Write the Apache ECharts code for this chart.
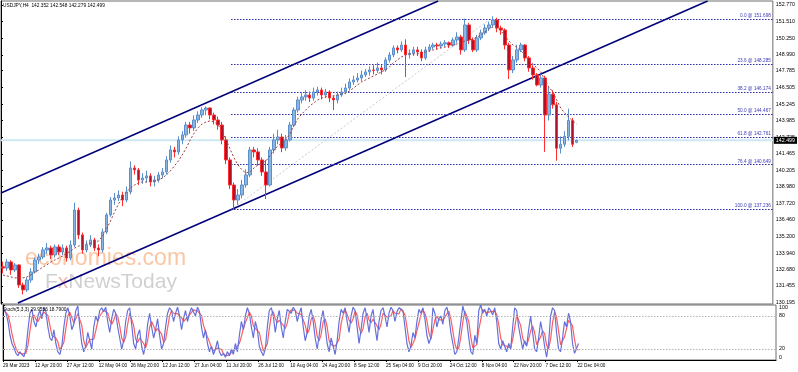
<!DOCTYPE html>
<html><head><meta charset="utf-8">
<script src="https://cdn.jsdelivr.net/npm/echarts@6/dist/echarts.min.js"></script>
<style>html,body{margin:0;padding:0;background:#fff}#c{width:798px;height:372px}</style>
</head><body><div id="c"></div>
<script>
// ---- data ----
const chartTitle = 'USDJPY,H4  142.352 142.548 142.279 142.499';
const stochTitle = 'Stoch(5,3,3) 29.9556 18.7900';
const opens = [
132.90,132.81,133.27,132.66,133.04,131.52,131.15,131.90,132.51,133.42,
133.65,134.18,134.33,133.80,134.41,134.03,134.33,133.57,134.56,137.21,
135.32,134.18,134.56,134.94,134.33,134.18,135.55,136.84,137.97,138.13,
138.35,137.97,138.58,140.40,140.25,139.49,139.64,139.80,139.34,139.49,
139.87,140.10,141.01,141.77,141.62,142.53,142.91,143.66,143.44,144.04,
144.42,144.80,144.95,144.42,144.04,143.66,142.53,141.01,139.11,137.97,
138.35,139.11,139.87,141.77,141.62,141.01,140.10,139.11,141.77,142.53,
142.75,141.92,142.53,143.66,144.80,145.56,145.79,145.94,145.71,146.17,
146.32,145.94,146.17,145.71,145.56,145.94,146.17,146.47,146.93,147.08,
147.23,147.46,147.69,147.84,147.80,147.99,147.84,148.60,148.98,149.51,
149.36,149.73,149.00,149.10,149.36,149.20,148.75,149.36,149.58,149.73,
149.66,149.81,149.90,149.73,150.11,150.34,149.36,151.25,150.11,149.36,
150.27,150.65,151.02,151.25,151.63,151.02,150.87,149.73,147.84,148.60,
149.36,149.73,148.75,147.99,147.46,146.70,147.23,144.42,146.00,145.20,
141.90,142.20,142.80,144.00,142.35];
const closes = [
132.81,133.27,132.66,133.04,131.52,131.15,131.90,132.51,133.42,133.65,
134.18,134.33,133.80,134.41,134.03,134.33,133.57,134.56,137.21,135.32,
134.18,134.56,134.94,134.33,134.18,135.55,136.84,137.97,138.13,138.35,
137.97,138.58,140.40,140.25,139.49,139.64,139.80,139.34,139.49,139.87,
140.10,141.01,141.77,141.62,142.53,142.91,143.66,143.44,144.04,144.42,
144.80,144.95,144.42,144.04,143.66,142.53,141.01,139.11,137.97,138.35,
139.11,139.87,141.77,141.62,141.01,140.10,139.11,141.77,142.53,142.75,
141.92,142.53,143.66,144.80,145.56,145.79,145.94,145.71,146.17,146.32,
145.94,146.17,145.71,145.56,145.94,146.17,146.47,146.93,147.08,147.23,
147.46,147.69,147.84,147.80,147.99,147.84,148.60,148.98,149.51,149.36,
149.73,149.00,149.10,149.36,149.20,148.75,149.36,149.58,149.73,149.66,
149.81,149.90,149.73,150.11,150.34,149.36,151.25,150.11,149.36,150.27,
150.65,151.02,151.25,151.63,151.02,150.87,149.73,147.84,148.60,149.36,
149.73,148.75,147.99,147.46,146.70,147.23,144.42,146.00,145.20,141.90,
142.20,142.80,144.00,142.20,142.50];
const lows = [
132.40,132.60,132.30,132.50,131.30,130.80,131.00,131.70,132.40,133.10,
133.50,133.90,133.50,133.60,133.80,133.80,133.30,133.40,134.40,135.00,
133.90,134.00,134.40,134.10,133.70,134.00,135.40,136.70,137.60,137.90,
137.50,137.80,138.40,139.90,139.10,139.20,139.30,139.00,139.00,139.30,
139.60,139.90,140.80,141.20,141.40,142.20,142.70,143.00,143.20,143.80,
144.20,144.40,144.10,143.70,143.30,142.20,140.70,138.80,137.24,137.60,
138.10,138.90,139.70,141.20,140.60,139.80,138.05,139.00,141.50,142.20,
141.60,141.70,142.40,143.50,144.60,145.30,145.50,145.40,145.50,145.90,
145.60,145.70,145.40,144.80,145.30,145.80,146.00,146.30,146.70,146.90,
147.00,147.30,147.40,147.50,147.60,147.50,147.70,148.40,148.80,149.10,
149.20,147.30,148.70,148.90,148.90,148.50,148.60,149.20,149.40,149.40,
149.50,149.60,149.50,149.60,149.90,149.00,149.20,149.80,149.20,149.20,
150.10,150.50,150.80,151.10,150.70,150.50,149.40,147.15,147.60,148.40,
149.20,148.50,147.70,147.10,146.60,146.50,141.62,144.00,144.90,140.95,
141.50,142.00,142.50,142.00,142.28];
const highs = [
133.30,133.50,133.40,133.20,133.10,131.70,132.10,132.80,133.60,133.90,
134.40,134.70,134.50,134.60,134.60,134.60,134.50,134.90,137.77,137.40,
135.50,134.90,135.30,135.10,134.60,135.80,137.00,138.20,138.50,138.70,
138.60,139.00,140.90,140.60,140.40,140.00,140.20,140.00,139.80,140.10,
140.40,141.30,142.10,142.00,142.80,143.20,143.90,143.90,144.40,144.70,
145.00,145.07,145.00,144.60,144.30,143.90,142.80,141.20,139.30,138.80,
139.50,140.30,142.00,142.00,141.90,141.20,141.00,142.00,143.00,143.30,
143.00,142.90,143.90,145.00,145.80,146.10,146.30,146.20,146.50,146.56,
146.50,146.40,146.30,145.90,146.20,146.50,146.80,147.20,147.40,147.60,
147.80,147.90,148.10,148.20,148.40,148.20,148.80,149.20,149.70,149.70,
150.00,150.16,149.40,149.60,149.60,149.40,149.60,149.80,149.90,149.90,
150.00,150.10,150.00,150.30,150.70,150.50,151.72,151.40,150.30,150.50,
150.90,151.30,151.50,151.91,151.80,151.20,151.00,149.90,148.90,149.75,
149.90,149.80,148.90,148.20,147.60,147.50,147.40,146.60,146.30,145.40,
142.80,143.20,144.90,144.20,142.55];
const maValues = [
132.28,132.21,132.13,132.06,132.06,132.06,132.13,132.28,132.51,132.66,
132.89,133.04,133.27,133.42,133.57,133.72,133.95,134.10,134.33,134.48,
134.56,134.63,134.71,134.79,134.86,135.24,135.77,136.38,137.06,137.67,
138.20,138.58,138.89,139.11,139.26,139.34,139.34,139.42,139.42,139.49,
139.64,139.87,140.17,140.55,140.93,141.39,141.92,142.53,143.06,143.44,
143.74,143.90,143.97,143.90,143.66,143.21,142.53,141.84,141.16,140.63,
140.25,140.02,140.10,140.40,140.63,140.78,140.93,141.31,141.77,142.07,
142.30,142.53,142.98,143.59,144.12,144.50,144.80,145.11,145.33,145.56,
145.71,145.79,145.86,145.86,145.94,146.02,146.09,146.24,146.47,146.70,
146.93,147.08,147.23,147.38,147.53,147.69,147.84,148.07,148.37,148.60,
148.82,148.98,149.05,149.05,149.05,149.13,149.20,149.28,149.36,149.43,
149.51,149.58,149.66,149.73,149.81,149.89,150.04,150.11,150.19,150.34,
150.49,150.72,150.95,151.10,151.02,150.80,150.42,150.04,149.73,149.58,
149.28,148.98,148.60,148.29,147.99,147.69,147.08,146.55,146.17,145.56,
144.95,144.57,144.27,143.97,143.74];
const stochK = [
92,85,70,45,30,22,12,8,15,10, 6,20,55,85,92,70,60,80,90,75,
95,88,60,40,35,55,30,15,10,25, 60,85,95,80,55,65,90,98,60,30,
15,25,50,35,20,60,80,70,90,95, 88,96,70,50,75,92,85,60,40,20,
35,70,90,95,65,30,20,45,55,25, 10,30,65,85,60,40,55,75,45,20,
30,60,85,95,90,70,85,96,80,55, 75,90,70,85,95,92,80,96,88,60,
40,55,30,15,25,10,20,35,15,8, 12,5,15,8,20,10,30,15,45,70,
55,80,95,85,60,40,70,55,25,15, 8,20,60,90,95,80,50,75,90,60,
40,70,92,95,85,96,90,70,85,95, 60,35,50,80,92,70,40,20,45,75,
90,60,30,15,40,25,10,35,70,92, 85,95,70,50,80,96,90,60,30,55,
85,95,75,50,80,92,60,35,70,90, 95,80,60,85,96,90,70,88,95,97,
90,60,30,15,25,50,40,70,92,85, 95,75,45,30,40,95,85,60,75,80,
65,90,96,80,50,30,10,15,40,70, 98,100,70,40,15,10,45,30,90,100,
85,92,80,95,90,82,95,70,30,20, 35,25,15,30,20,60,95,90,60,40,
20,35,25,55,80,50,20,15,40,70, 50,25,5,30,80,95,90,50,20,15,
40,70,60,85,70,30,12,14,30];
const stochD = [
90,88,82,67,48,32,21,14,12,11, 10,12,27,53,77,82,74,70,77,82,
87,86,81,63,45,43,40,33,18,17, 32,57,80,87,77,67,70,84,83,63,
35,23,30,37,35,38,53,70,80,85, 91,93,85,72,65,72,84,79,62,40,
32,42,65,85,83,63,38,32,40,42, 30,22,35,60,70,62,52,57,58,47,
32,37,58,80,90,85,82,84,87,77, 70,73,78,82,83,91,89,89,88,81,
63,52,42,33,23,17,18,22,23,19, 12,8,11,9,14,13,20,18,30,43,
57,68,77,87,80,62,57,55,50,32, 16,14,29,57,82,88,75,68,72,75,
63,57,67,86,91,92,90,85,82,83, 80,63,48,55,74,81,67,43,35,47,
70,75,60,35,28,27,25,23,38,66, 82,91,83,72,67,75,89,82,60,48,
57,78,85,73,68,74,77,62,55,65, 85,88,78,75,80,90,85,83,84,93,
94,82,60,35,23,30,38,53,67,82, 91,85,72,50,38,55,73,80,73,72,
73,78,84,89,75,53,30,18,22,42, 69,89,89,70,42,22,23,28,55,73,
92,92,86,89,88,89,89,82,65,40, 28,27,25,23,22,37,58,82,82,63,
40,32,27,38,53,62,50,28,25,42, 53,48,27,20,38,68,88,78,53,28,
25,42,57,72,72,62,37,19,19];
const priceTicks = [152.770,151.510,150.250,148.990,147.785,146.505,145.245,143.985,142.725,141.465,140.205,138.980,137.720,136.460,135.200,133.940,132.680,131.455,130.195];
const stochTicks = [100,80,20,0];
const stochLevels = [80,20];
const dateLabels = ['29 Mar 2023','12 Apr 20:00','27 Apr 12:00','12 May 04:00','26 May 20:00','12 Jun 12:00','27 Jun 04:00','11 Jul 20:00','26 Jul 12:00','10 Aug 04:00','24 Aug 20:00','8 Sep 12:00','25 Sep 04:00','9 Oct 20:00','24 Oct 12:00','8 Nov 04:00','22 Nov 20:00','7 Dec 12:00','22 Dec 04:00'];
const fibPercents = ['0.0','23.6','38.2','50.0','61.8','76.4','100.0'];
const fibPrices = [151.698,148.285,146.174,144.467,142.761,140.649,137.236];
const fibLowBar = 462, fibHighBar = 982;           // H4 bar index of the fib anchors
const upperChannel = [[0,138.506],[878,153.07]];   // [bar, price]
const lowerChannel = [[34,130.16],[1419,153.07]];
const bidPrice = 142.499;
const barsPerCandle = 8, barsPerStoch = 4, barsPerLabel = 64;
const totalBars = 1550;
const priceMin = 130.08, priceMax = 153.07;
const stochMin = 0, stochMax = 100;

// ---- build ----
const candleData = opens.map((o,i)=>[i*barsPerCandle+barsPerCandle/2, o, closes[i], lows[i], highs[i]]);
const maData = maValues.map((v,i)=>[i*barsPerCandle+barsPerCandle/2, v]);
const kData = stochK.map((v,j)=>[j*barsPerStoch+barsPerStoch/2, v]);
const dData = stochD.map((v,j)=>[j*barsPerStoch+barsPerStoch/2, v]);
const dateTicks = dateLabels.map((_,k)=>k*barsPerLabel);
const FONT = 'Liberation Sans';

const chart = echarts.init(document.getElementById('c'), null, {renderer:'canvas'});
chart.setOption({
  animation:false,
  backgroundColor:'#fff',
  textStyle:{fontFamily:FONT},
  grid:[
    {left:1,right:22,top:1,bottom:68,show:true,borderColor:'#6e6e6e',borderWidth:1},
    {left:1,right:22,top:305,bottom:12,show:true,borderColor:'#6e6e6e',borderWidth:1}
  ],
  xAxis:[
    {gridIndex:0,type:'value',min:0,max:totalBars,show:false},
    {gridIndex:1,type:'value',min:0,max:totalBars,
      axisLine:{show:true,lineStyle:{color:'#000',width:1}},
      axisTick:{show:true,customValues:dateTicks,length:2,lineStyle:{color:'#000'}},
      axisLabel:{customValues:dateTicks,formatter:v=>dateLabels[Math.round(v/barsPerLabel)]||'',
        fontSize:4.7,color:'#000',align:'left',margin:3,fontFamily:FONT},
      splitLine:{show:false}}
  ],
  yAxis:[
    {gridIndex:0,type:'value',position:'right',min:priceMin,max:priceMax,
      axisLine:{show:true,lineStyle:{color:'#000'}},
      axisTick:{show:true,customValues:priceTicks,length:2,lineStyle:{color:'#000'}},
      axisLabel:{customValues:priceTicks,formatter:v=>v.toFixed(3),fontSize:5.3,color:'#000',margin:3,fontFamily:FONT},
      splitLine:{show:false}},
    {gridIndex:1,type:'value',position:'right',min:stochMin,max:stochMax,
      axisLine:{show:true,lineStyle:{color:'#000'}},
      axisTick:{show:true,customValues:stochTicks,length:2,lineStyle:{color:'#000'}},
      axisLabel:{customValues:stochTicks,fontSize:5.3,color:'#000',margin:3,fontFamily:FONT,
        formatter:v=>v===stochMax?'{t|'+v+'}':(v===stochMin?'{b|'+v+'}':String(v)),
        rich:{t:{fontSize:5.3,padding:[5,0,0,0],fontFamily:FONT},b:{fontSize:5.3,padding:[0,0,5,0],fontFamily:FONT}}},
      splitLine:{show:false}}
  ],
  graphic:[
    {type:'text',left:25,top:247,z:0,silent:true,style:{text:'economies.com',fontSize:23,fontFamily:FONT,fill:'rgba(247,150,85,0.55)'}},
    {type:'text',left:45,top:272,z:0,silent:true,style:{text:'{a|F}{b|x}{a|NewsToday}',fontFamily:FONT,
      rich:{a:{fontSize:21,fill:'rgba(150,150,150,0.45)',fontFamily:FONT},b:{fontSize:21,fill:'rgba(230,110,100,0.5)',fontFamily:FONT}}}},
    {type:'text',left:3,top:3,z:10,style:{text:chartTitle,fontSize:4.8,fontFamily:FONT,fill:'#000'}},
    {type:'text',left:3,top:307,z:10,style:{text:stochTitle,fontSize:4.8,fontFamily:FONT,fill:'#000'}}
  ],
  series:[
    {name:'bid',type:'line',xAxisIndex:0,yAxisIndex:0,z:1,symbol:'none',silent:true,
      data:[[0,bidPrice],[totalBars,bidPrice]],lineStyle:{color:'#cde8f3',width:2},
      endLabel:{show:true,formatter:bidPrice.toFixed(3),backgroundColor:'#000',color:'#fff',fontSize:5.3,padding:[1,2,1,2],distance:1,fontFamily:FONT}},
    {name:'fibBase',type:'line',xAxisIndex:0,yAxisIndex:0,z:2,symbol:'none',silent:true,
      data:[[fibLowBar,fibPrices[6]],[fibHighBar,fibPrices[0]]],lineStyle:{color:'#c8c8c8',width:1,type:[2,2]}},
    {name:'fib',type:'line',xAxisIndex:0,yAxisIndex:0,z:3,symbol:'none',silent:true,
      data:[[fibLowBar,fibPrices[6]]],lineStyle:{opacity:0},
      markLine:{silent:true,symbol:['none','none'],animation:false,
        lineStyle:{color:'#2626a8',width:1,type:[1.5,1.5]},
        label:{show:true,position:'insideEndTop',distance:[2,1],fontSize:4.7,color:'#3a3ab8',fontFamily:FONT},
        data:fibPrices.map((p,k)=>[{coord:[fibLowBar,p]},{coord:[totalBars,p],label:{formatter:fibPercents[k]+' @ '+p.toFixed(3)}}])}},
    {name:'upperChannel',type:'line',xAxisIndex:0,yAxisIndex:0,z:4,symbol:'none',silent:true,
      data:upperChannel,lineStyle:{color:'#00007a',width:1.5}},
    {name:'lowerChannel',type:'line',xAxisIndex:0,yAxisIndex:0,z:4,symbol:'none',silent:true,
      data:lowerChannel,lineStyle:{color:'#00007a',width:1.5}},
    {name:'candles',type:'candlestick',xAxisIndex:0,yAxisIndex:0,z:5,barWidth:3,
      encode:{x:0,y:[1,2,3,4]},data:candleData,
      itemStyle:{color:'#8cb6e2',color0:'#b0102a',borderColor:'#5a8fcb',borderColor0:'#ff2d2d',borderWidth:1}},
    {name:'ma',type:'line',xAxisIndex:0,yAxisIndex:0,z:6,symbol:'none',silent:true,
      data:maData,lineStyle:{color:'#a03c3c',width:1,type:[2,2]}},
    {name:'stochD',type:'line',xAxisIndex:1,yAxisIndex:1,z:3,symbol:'none',silent:true,
      data:dData,lineStyle:{color:'#ff5c5c',width:1.2},
      markLine:{silent:true,symbol:['none','none'],label:{show:false},
        lineStyle:{color:'#b4b4b4',width:1,type:[1.5,1.5]},data:stochLevels.map(v=>({yAxis:v}))}},
    {name:'stochK',type:'line',xAxisIndex:1,yAxisIndex:1,z:4,symbol:'none',silent:true,
      data:kData,lineStyle:{color:'#6470dc',width:1.2}}
  ]
});
</script></body></html>
